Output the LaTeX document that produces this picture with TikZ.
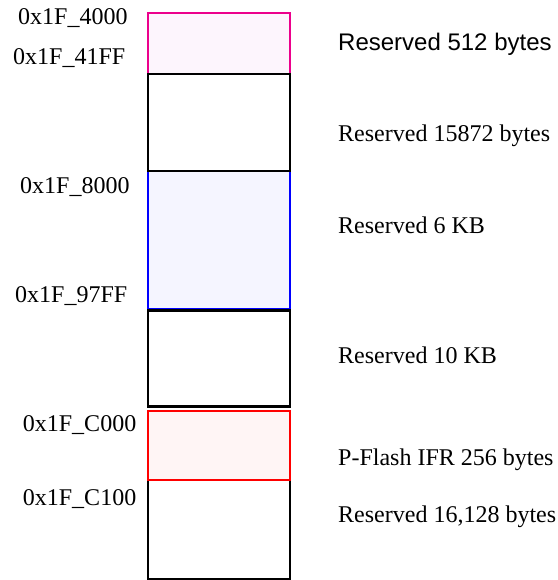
\documentclass[tikz,border=0pt]{standalone}
\usepackage{fontspec}
\setmainfont{Liberation Serif}
\newfontfamily\arialfont{Liberation Sans}
\definecolor{magfill}{HTML}{FDF5FD}
\definecolor{bluefill}{HTML}{F5F5FF}
\definecolor{redfill}{HTML}{FFF5F5}
\begin{document}
\begin{tikzpicture}[x=1pt,y=-1pt,
  mem/.style={draw, line width=2.2pt, anchor=north west, inner sep=0pt, outer sep=0pt, minimum width=142pt},
  lbl/.style={anchor=base west, inner sep=0pt, font=\fontsize{24}{28}\selectfont}]
\useasboundingbox (0,0) rectangle (557,580);
% boxes
\node[mem, draw=magenta, fill=magfill, minimum height=61pt] (m1) at (148,13) {};
\node[mem, draw=blue, fill=bluefill, minimum height=138pt] (m3) at (148,171) {};
\node[mem, draw=black, minimum height=97pt] (m2) at (148,74) {};
\node[mem, draw=black, minimum height=96pt] (m4) at (148,310.5) {};
\node[mem, draw=black, minimum height=99pt] (m6) at (148,480) {};
\node[mem, draw=red, fill=redfill, minimum height=69pt] (m5) at (148,411) {};
% address labels
\node[lbl] (a1) at (18,25) {0x1F\_4000};
\node[lbl] (a2) at (13,64.5) {0x1F\_41FF};
\node[lbl] (a3) at (20,193) {0x1F\_8000};
\node[lbl] (a4) at (15,302) {0x1F\_97FF};
\node[lbl] (a5) at (22.7,431) {0x1F\_C000};
\node[lbl] (a6) at (22.7,505) {0x1F\_C100};
% descriptions
\node[lbl, font=\arialfont\fontsize{24}{28}\selectfont] (d1) at (338,51) {Reserved 512 bytes};
\node[lbl] (d2) at (338,142) {Reserved 15872 bytes};
\node[lbl] (d3) at (338,233) {Reserved 6 KB};
\node[lbl] (d4) at (338,363) {Reserved 10 KB};
\node[lbl] (d5) at (338,465) {P-Flash IFR 256 bytes};
\node[lbl] (d6) at (338,522.5) {Reserved 16,128 bytes};
\end{tikzpicture}
\end{document}
